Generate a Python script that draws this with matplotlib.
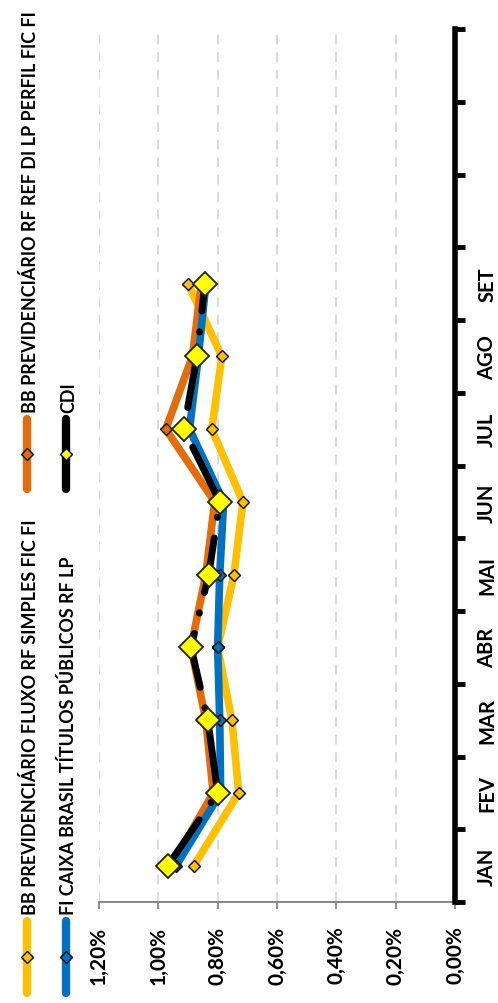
import numpy as np
import matplotlib
matplotlib.use("Agg")
import matplotlib.pyplot as plt
from matplotlib.lines import Line2D

plt.rcParams['font.family'] = ['Lato', 'DejaVu Sans']
plt.rcParams['font.weight'] = 'bold'

# Monthly returns (%)
months = ['JAN', 'FEV', 'MAR', 'ABR', 'MAI', 'JUN', 'JUL', 'AGO', 'SET']
fluxo = [0.88, 0.729, 0.752, 0.80, 0.745, 0.715, 0.82, 0.786, 0.90]
caixa = [0.94, 0.79, 0.793, 0.80, 0.793, 0.78, 0.895, 0.865, 0.84]
perfil = [0.955, 0.815, 0.84, 0.89, 0.84, 0.81, 0.975, 0.885, 0.855]
cdi = [0.968, 0.80, 0.833, 0.89, 0.83, 0.793, 0.914, 0.87, 0.843]

names = ['BB PREVIDENCIÁRIO FLUXO RF SIMPLES FIC FI',
         'BB PREVIDENCIÁRIO RF REF DI LP PERFIL FIC FI',
         'FI CAIXA BRASIL TÍTULOS PÚBLICOS RF LP',
         'CDI']
colors = ['#FFC000', '#E46C0A', '#0070C0', '#000000']

W, H = 498, 1004
fig = plt.figure(figsize=(W / 100, H / 100), dpi=100)
ax = fig.add_axes([99 / W, 1 - 903 / H, (455 - 99) / W, (903 - 30) / H])

pos = np.arange(len(months))
lw = 5.5
ax.plot(fluxo, pos, color=colors[0], lw=lw, marker='D', ms=6.5,
        mfc=colors[0], mec='black', mew=1.0, zorder=3, solid_capstyle='round')
ax.plot(perfil, pos, color=colors[1], lw=lw, marker='D', ms=6.5,
        mfc=colors[1], mec='black', mew=1.0, zorder=4, solid_capstyle='round')
ax.plot(caixa, pos, color=colors[2], lw=lw, marker='D', ms=6.5,
        mfc=colors[2], mec='black', mew=1.0, zorder=5, solid_capstyle='round')
ax.plot(cdi, pos, color='black', lw=5, dashes=(8, 3, 0.05, 3),
        dash_capstyle='round', zorder=6)
ax.plot(cdi, pos, ls='none', marker='D', ms=12.5, mfc='#FFFF00',
        mec='#222222', mew=1.3, zorder=7)

# value axis (rotated: horizontal, reversed)
ax.set_xlim(1.2, 0)
ticks = np.arange(0, 1.21, 0.2)
ax.set_xticks(ticks)
ax.set_xticklabels([f'{t:.2f}%'.replace('.', ',') for t in ticks])
ax.tick_params(axis='x', direction='out', length=5, width=1.3, color='#868686',
               pad=12, labelsize=15, labelrotation=90)
ax.xaxis.grid(True, color='#D9D9D9', lw=1.4, dashes=(5, 4))
ax.set_axisbelow(True)

# category axis
ax.set_ylim(-0.5, 11.5)
ax.yaxis.tick_right()
ax.set_yticks(pos)
ax.set_yticklabels(months, rotation=90, va='center')
ax.set_yticks(np.arange(-0.5, 12, 1), minor=True)
ax.tick_params(axis='y', which='major', length=0, pad=16, labelsize=14.5)
ax.tick_params(axis='y', which='minor', length=7, width=3.5, color='black',
               direction='out')

for s in ['left', 'top']:
    ax.spines[s].set_visible(False)
ax.spines['right'].set_color('black')
ax.spines['right'].set_linewidth(4)
ax.spines['right'].set_zorder(8)
ax.spines['bottom'].set_color('#868686')
ax.spines['bottom'].set_linewidth(1.4)

# legend (drawn rotated, in pixel coordinates)
lax = fig.add_axes([0, 0, 1, 1])
lax.set_xlim(0, W)
lax.set_ylim(H, 0)
lax.axis('off')
entries = [(27, 922, 994, 915), (27, 420, 490, 413), (66, 922, 994, 915), (66, 420, 490, 413)]
mcols = [colors[0], colors[1], colors[2], '#FFFF00']
for (x, y0, y1, ty), name, c, mc in zip(entries, names, colors, mcols):
    lax.add_line(Line2D([x, x], [y0, y1], color=c, lw=6, solid_capstyle='round'))
    lax.add_line(Line2D([x], [(y0 + y1) / 2], marker='D', ms=6, mfc=mc,
                        mec='black', mew=1.0))
    lax.text(x + 1, ty, name, rotation=90, rotation_mode='anchor', ha='left',
             va='center_baseline', fontsize=12.9, fontweight='bold')

fig.savefig('out.png', dpi=100)
